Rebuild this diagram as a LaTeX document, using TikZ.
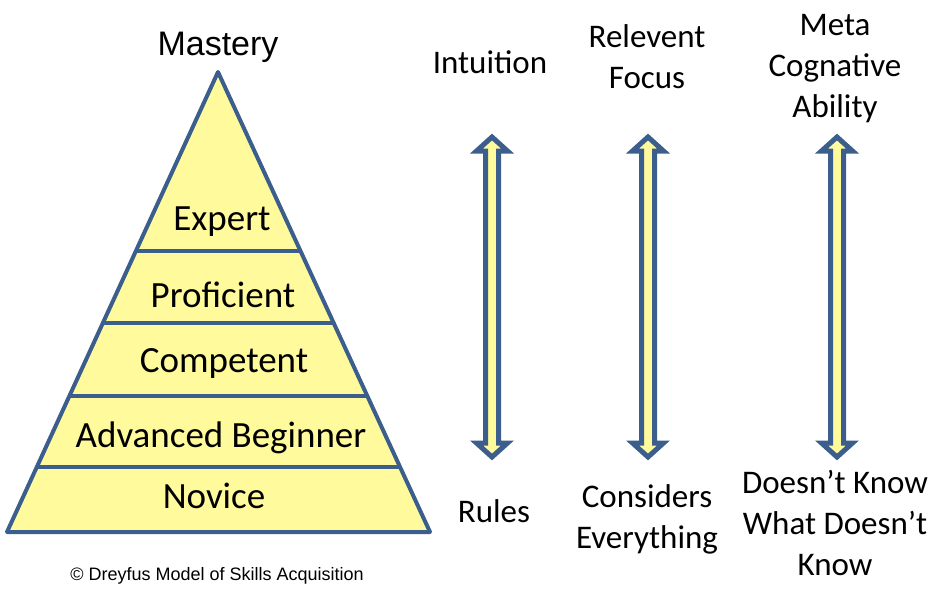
\documentclass[tikz,border=0pt]{standalone}
\usepackage{fontspec}
\setmainfont{Carlito}
\newfontfamily\helv{Liberation Sans}
\usetikzlibrary{calc,positioning}
\definecolor{edgeblue}{RGB}{59,94,140}
\definecolor{paleyellow}{RGB}{255,250,155}

\begin{document}
\begin{tikzpicture}[x=1pt,y=-1pt]
\tikzstyle{level}=[inner sep=0pt, anchor=base,
	font=\fontsize{37}{44}\selectfont]
\tikzstyle{side}=[inner sep=0pt, anchor=base, align=center,
	font=\fontsize{33}{41}\selectfont]
\tikzstyle{layer}=[draw=edgeblue, line width=4pt]
\tikzstyle{twoway}=[draw=edgeblue, fill=paleyellow, line width=5pt, line join=miter]
\useasboundingbox (0,0) rectangle (940,590);
% pyramid
\coordinate (top) at (218,72);
\coordinate (bl) at (7,532);
\coordinate (br) at (430,532);
\draw[layer, fill=paleyellow, line join=round] (top) -- (br) -- (bl) -- cycle;
\draw[layer] ($(top)!0.389!(bl)$) -- ($(top)!0.389!(br)$);
\draw[layer] ($(top)!0.546!(bl)$) -- ($(top)!0.546!(br)$);
\draw[layer] ($(top)!0.704!(bl)$) -- ($(top)!0.704!(br)$);
\draw[layer] ($(top)!0.859!(bl)$) -- ($(top)!0.859!(br)$);
\node[inner sep=0pt, anchor=base, font=\helv\fontsize{34}{40}\selectfont] (mastery) at (218,55) {Mastery};
\node[level] (expert) at (222,230) {Expert};
\node[level] (proficient) at (223,307) {Proficient};
\node[level] (competent) at (224,372) {Competent};
\node[level] (advanced) at (221,447) {Advanced Beginner};
\node[level] (novice) at (214,508) {Novice};
\node[inner sep=0pt, anchor=base, font=\helv\fontsize{18}{22}\selectfont] (credit) at (217,580) {© Dreyfus Model of Skills Acquisition};
% scales (base = last line)
\node[side] (intuition) at (490,73) {Intuition};
\node[side] (focus) at (647,88) {Relevent\\Focus};
\node[side] (meta) at (835,117) {Meta\\Cognative\\Ability};
\node[side] (rules) at (494,522) {Rules};
\node[side] (everything) at (647,548) {Considers\\Everything};
\node[side] (unknown) at (835,575) {Doesn’t Know\\What Doesn’t\\Know};
\coordinate (i-tip) at (492,137);
\coordinate (f-tip) at (648,137);
\coordinate (m-tip) at (837,137);
\draw[twoway] (i-tip) -- ++(15.5,14) -- ++(-9,0) -- ++(0,292) -- ++(9,0) -- ++(-15.5,14)
	-- ++(-15.5,-14) -- ++(9,0) -- ++(0,-292) -- ++(-9,0) -- cycle;
\draw[twoway] (f-tip) -- ++(15.5,14) -- ++(-9,0) -- ++(0,292) -- ++(9,0) -- ++(-15.5,14)
	-- ++(-15.5,-14) -- ++(9,0) -- ++(0,-292) -- ++(-9,0) -- cycle;
\draw[twoway] (m-tip) -- ++(15.5,14) -- ++(-9,0) -- ++(0,292) -- ++(9,0) -- ++(-15.5,14)
	-- ++(-15.5,-14) -- ++(9,0) -- ++(0,-292) -- ++(-9,0) -- cycle;

\end{tikzpicture}
\end{document}
